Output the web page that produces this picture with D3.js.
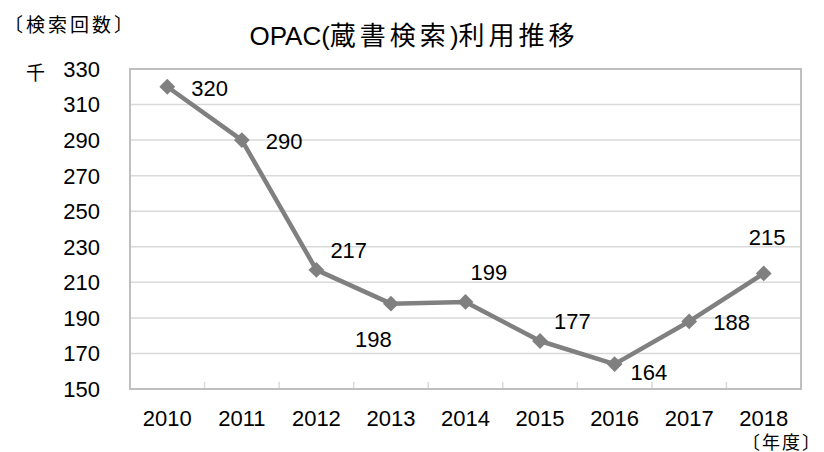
<!DOCTYPE html>
<html><head><meta charset="utf-8">
<script src="https://cdn.jsdelivr.net/npm/d3@7"></script>
<style>
body{margin:0;background:#fff;}
text{font-family:"Liberation Sans","Noto Sans CJK JP",Arial,sans-serif;fill:#000;}
</style></head>
<body><svg id="c" width="824" height="452"></svg>
<script>
const years = ["2010","2011","2012","2013","2014","2015","2016","2017","2018"];
const values = [320, 290, 217, 198, 199, 177, 164, 188, 215];
const yTicks = [150,170,190,210,230,250,270,290,310,330];
const labelPlace = ["right","right","aboveRight","belowLeft","above","aboveRight","belowRight","right","aboveLeft"];

const svg = d3.select("#c");
const L=130, R=801, T=69, B=389;
const x = d3.scaleBand().domain(years).range([L,R]);
const y = d3.scaleLinear().domain([150,330]).range([B,T]);

// gridlines
svg.append("g").selectAll("line").data(yTicks.slice(1)).join("line")
  .attr("x1",L).attr("x2",R).attr("y1",d=>y(d)).attr("y2",d=>y(d))
  .attr("stroke","#d9d9d9").attr("stroke-width",1.5);

// x ticks between categories
svg.append("g").selectAll("line").data(years.slice(1)).join("line")
  .attr("x1",d=>x(d)).attr("x2",d=>x(d)).attr("y1",B).attr("y2",B-7)
  .attr("stroke","#d9d9d9").attr("stroke-width",1.5);

// plot border
svg.append("rect").attr("x",L).attr("y",T).attr("width",R-L).attr("height",B-T)
  .attr("fill","none").attr("stroke","#bfbfbf").attr("stroke-width",2);

// y tick labels
svg.append("g").selectAll("text").data(yTicks).join("text")
  .attr("x",100).attr("y",d=>y(d)).attr("dy","0.36em").attr("text-anchor","end")
  .attr("font-size",22).text(d=>d);

// x tick labels
svg.append("g").selectAll("text").data(years).join("text")
  .attr("x",d=>x(d)+x.bandwidth()/2).attr("y",426).attr("text-anchor","middle")
  .attr("font-size",22).text(d=>d);

// line
const cx = (d,i)=>x(years[i])+x.bandwidth()/2;
svg.append("path").datum(values)
  .attr("d",d3.line().x(cx).y(d=>y(d)))
  .attr("fill","none").attr("stroke","#808080").attr("stroke-width",4.5).attr("stroke-linejoin","round");

// markers
svg.append("g").selectAll("path").data(values).join("path")
  .attr("transform",(d,i)=>`translate(${cx(d,i)},${y(d)})`)
  .attr("d",d3.symbol().type(d3.symbolDiamond2).size(160))
  .attr("fill","#808080");

// data labels
const off = {right:[24,1], aboveRight:[14,-20], belowLeft:[-36,35], above:[5,-30], belowRight:[16,8], aboveLeft:[-15,-36]};
svg.append("g").selectAll("text").data(values).join("text")
  .attr("x",(d,i)=>cx(d,i)+off[labelPlace[i]][0])
  .attr("y",(d,i)=>y(d)+off[labelPlace[i]][1]).attr("dy","0.36em")
  .attr("font-size",22).text(d=>d);

// title & axis titles
const title = svg.append("text").attr("x",414).attr("y",45).attr("text-anchor","middle").attr("font-size",26);
title.append("tspan").text("OPAC(");
title.append("tspan").attr("letter-spacing",4).text("蔵書検索");
title.append("tspan").text(")");
title.append("tspan").attr("letter-spacing",4).text("利用推移");
svg.append("text").attr("x",4).attr("y",32).attr("font-size",19).attr("letter-spacing",3).text("〔検索回数〕");
svg.append("text").attr("x",26).attr("y",80).attr("font-size",19).text("千");
svg.append("text").attr("x",822).attr("y",449).attr("text-anchor","end").attr("font-size",18).attr("letter-spacing",2).text("〔年度〕");
</script></body></html>
